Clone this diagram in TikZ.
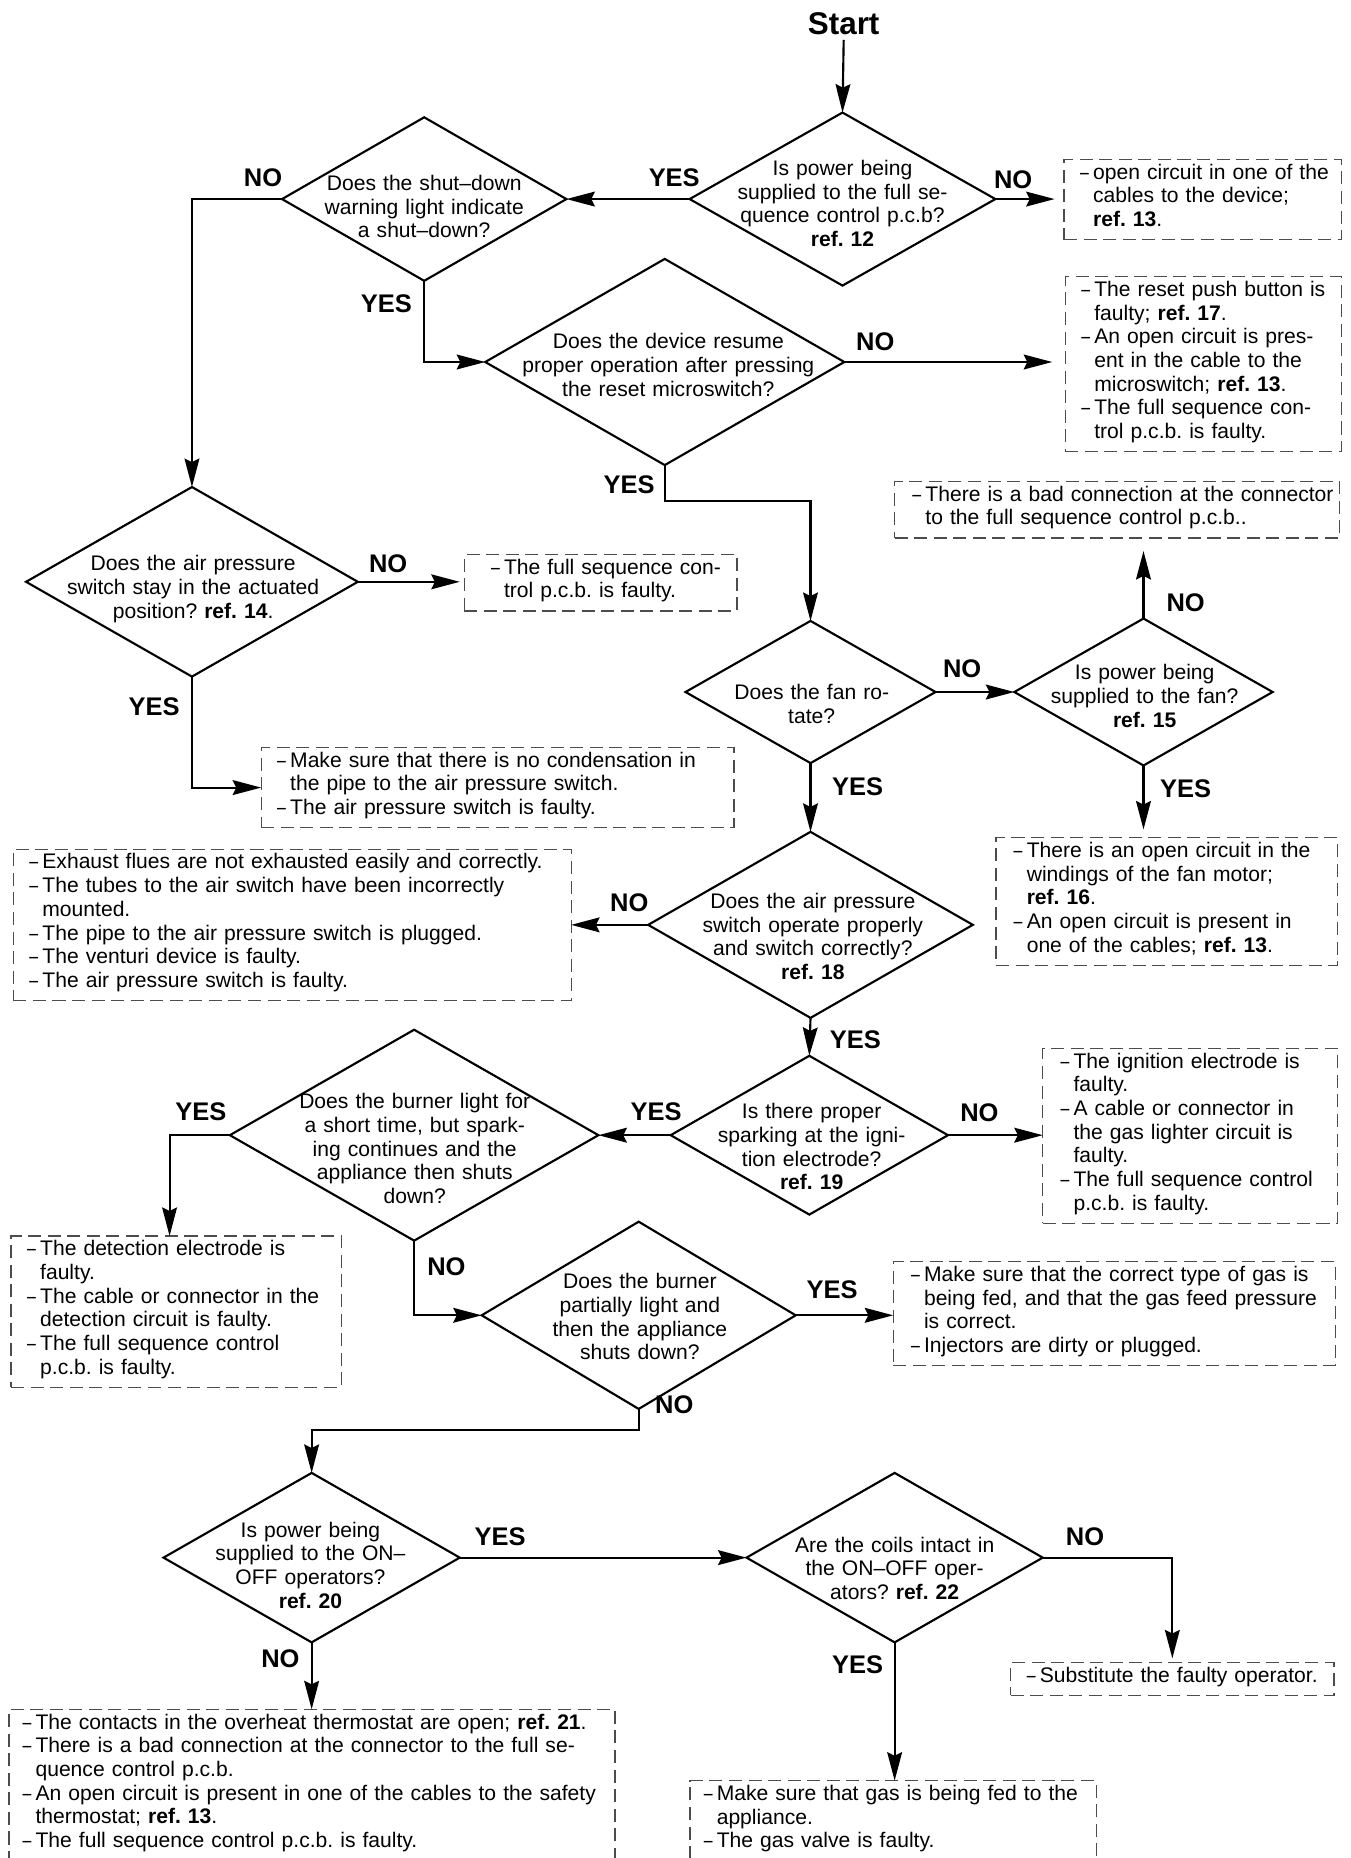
\documentclass[tikz,border=0pt]{standalone}
\usepackage{fontspec}
\usepackage{graphicx}
\setmainfont{Liberation Sans}
\usetikzlibrary{shapes.geometric,arrows.meta,calc}
\newcommand\itm[1]{\mbox{\makebox[11pt][l]{\scalebox{0.75}[1]{–}}#1}}
\newcommand\cnt[1]{\mbox{\hspace*{11pt}#1}}
\frenchspacing
\begin{document}
\begin{tikzpicture}[x=1pt,y=1pt,
  dia/.style={draw, shape=diamond, inner sep=0pt, outer sep=0pt, line width=1.8pt},
  dtext/.style={text width=300pt, align=center, inner sep=0pt, anchor=base, font=\fontsize{17.8}{20}\selectfont\frenchspacing},
  lbl/.style={inner sep=0pt, font=\bfseries\fontsize{21.5}{24}\selectfont},
  box/.style={draw=black!70, line width=1.1pt, dash pattern=on 11pt off 5.5pt, anchor=north west,
    inner xsep=13.5pt, inner ysep=3.75pt, outer sep=0pt, align=left,
    font=\fontsize{17.8}{20}\selectfont\frenchspacing,
    execute at begin node={\rule{0pt}{12.7pt}}, execute at end node={\rule[-7.3pt]{0pt}{7.3pt}}},
  conn/.style={line width=1.8pt, -{Stealth[length=24pt,width=12.5pt,inset=3pt]}},
  plain/.style={line width=1.8pt}
]
\path[use as bounding box, fill=white] (0,0) rectangle (1140,-1568);

% start
\node[inner sep=4pt, font=\bfseries\fontsize{26.5}{30}\selectfont] (start) at (712,-20) {Start};

% diamonds
\node[dia, minimum width=258pt, minimum height=146pt] (d1) at (711,-168) {};
\node[dia, minimum width=240pt, minimum height=138pt] (d2) at (358,-168) {};
\node[dia, minimum width=280pt, minimum height=160pt] (d3) at (162,-491) {};
\node[dia, minimum width=303pt, minimum height=174pt] (d4) at (561,-305.5) {};
\node[dia, minimum width=211pt, minimum height=120pt] (d5) at (684,-584) {};
\node[dia, minimum width=218pt, minimum height=124pt] (d6) at (965,-584) {};
\node[dia, minimum width=274pt, minimum height=157pt] (d7) at (684,-780.5) {};
\node[dia, minimum width=311pt, minimum height=178pt] (d8) at (349.5,-958) {};
\node[dia, minimum width=234pt, minimum height=134pt] (d9) at (683,-958) {};
\node[dia, minimum width=265pt, minimum height=158pt] (d10) at (539,-1110) {};
\node[dia, minimum width=250pt, minimum height=143pt] (d11) at (263,-1314.5) {};
\node[dia, minimum width=250pt, minimum height=143pt] (d12) at (755,-1314.5) {};

% diamond texts
\node[dtext] (t1) at (711,-148) {Is power being\\supplied to the full se-\\quence control p.c.b?\\\textbf{ref. 12}};
\node[dtext] (t2) at (358,-160.6) {Does the shut–down\\warning light indicate\\a shut–down?};
\node[dtext] (t3) at (163,-481.6) {Does the air pressure\\switch stay in the actuated\\position? \textbf{ref. 14}.};
\node[dtext] (t4) at (564,-294.3) {Does the device resume\\proper operation after pressing\\the reset microswitch?};
\node[dtext] (t5) at (685,-590.2) {Does the fan ro-\\tate?};
\node[dtext] (t6) at (966,-573.6) {Is power being\\supplied to the fan?\\\textbf{ref. 15}};
\node[dtext] (t7) at (686,-766.6) {Does the air pressure\\switch operate properly\\and switch correctly?\\\textbf{ref. 18}};
\node[dtext] (t8) at (350,-935.6) {Does the burner light for\\a short time, but spark-\\ing continues and the\\appliance then shuts\\down?};
\node[dtext] (t9) at (685,-944.1) {Is there proper\\sparking at the igni-\\tion electrode?\\\textbf{ref. 19}};
\node[dtext] (t10) at (540,-1087.6) {Does the burner\\partially light and\\then the appliance\\shuts down?};
\node[dtext] (t11) at (262,-1297.1) {Is power being\\supplied to the ON–\\OFF operators?\\\textbf{ref. 20}};
\node[dtext] (t12) at (755,-1309.8) {Are the coils intact in\\the ON–OFF oper-\\ators? \textbf{ref. 22}};

% boxes
\node[box, text width=207pt] (b1) at (898,-134.5) {\itm{open circuit in one of the}\\\cnt{cables to the device;}\\\cnt{\textbf{ref. 13}.}};
\node[box, text width=206pt] (b2) at (899,-233.5) {\itm{The reset push button is}\\\cnt{faulty; \textbf{ref. 17}.}\\\itm{An open circuit is pres-}\\\cnt{ent in the cable to the}\\\cnt{microswitch; \textbf{ref. 13}.}\\\itm{The full sequence con-}\\\cnt{trol p.c.b. is faulty.}};
\node[box, inner xsep=22.6pt, text width=185pt] (b3) at (391.8,-468) {\itm{The full sequence con-}\\\cnt{trol p.c.b. is faulty.}};
\node[box, text width=372pt] (b4) at (220.4,-630.8) {\itm{Make sure that there is no condensation in}\\\cnt{the pipe to the air pressure switch.}\\\itm{The air pressure switch is faulty.}};
\node[box, text width=443.7pt] (b5) at (11.3,-716.7) {\itm{Exhaust flues are not exhausted easily and correctly.}\\\itm{The tubes to the air switch have been incorrectly}\\\cnt{mounted.}\\\itm{The pipe to the air pressure switch is plugged.}\\\itm{The venturi device is faulty.}\\\itm{The air pressure switch is faulty.}};
\node[box, inner xsep=15pt, text width=345.6pt] (b6) at (755,-406.3) {\itm{There is a bad connection at the connector}\\\cnt{to the full sequence control p.c.b..}};
\node[box, inner xsep=15pt, text width=258.2pt] (b7) at (840.5,-707) {\itm{There is an open circuit in the}\\\cnt{windings of the fan motor;}\\\cnt{\textbf{ref. 16}.}\\\itm{An open circuit is present in}\\\cnt{one of the cables; \textbf{ref. 13}.}};
\node[box, text width=251.8pt] (b8) at (9.4,-1043) {\itm{The detection electrode is}\\\cnt{faulty.}\\\itm{The cable or connector in the}\\\cnt{detection circuit is faulty.}\\\itm{The full sequence control}\\\cnt{p.c.b. is faulty.}};
\node[box, inner xsep=15pt, text width=218.7pt] (b9) at (880,-884.7) {\itm{The ignition electrode is}\\\cnt{faulty.}\\\itm{A cable or connector in}\\\cnt{the gas lighter circuit is}\\\cnt{faulty.}\\\itm{The full sequence control}\\\cnt{p.c.b. is faulty.}};
\node[box, inner xsep=15pt, text width=343pt] (b10) at (753.8,-1064.7) {\itm{Make sure that the correct type of gas is}\\\cnt{being fed, and that the gas feed pressure}\\\cnt{is correct.}\\\itm{Injectors are dirty or plugged.}};
\node[box, inner xsep=11.5pt, text width=488.6pt] (b11) at (7.5,-1442.5) {\itm{The contacts in the overheat thermostat are open; \textbf{ref. 21}.}\\\itm{There is a bad connection at the connector to the full se-}\\\cnt{quence control p.c.b.}\\\itm{An open circuit is present in one of the cables to the safety}\\\cnt{thermostat; \textbf{ref. 13}.}\\\itm{The full sequence control p.c.b. is faulty.}};
\node[box, text width=245.7pt] (b12) at (853,-1403.1) {\itm{Substitute the faulty operator.}};
\node[box, inner xsep=11.5pt, text width=319.8pt] (b13) at (582.4,-1502.7) {\itm{Make sure that gas is being fed to the}\\\cnt{appliance.}\\\itm{The gas valve is faulty.}};

% labels
\node[lbl] (l1) at (569,-150) {YES};
\node[lbl] (l2) at (855,-152) {NO};
\node[lbl] (l3) at (222,-150) {NO};
\node[lbl] (l4) at (326,-256) {YES};
\node[lbl] (l5) at (738.6,-288) {NO};
\node[lbl] (l6) at (531,-409.3) {YES};
\node[lbl] (l7) at (327.6,-475.6) {NO};
\node[lbl] (l8) at (130,-596) {YES};
\node[lbl] (l9) at (812,-564.6) {NO};
\node[lbl] (l10) at (1000.6,-508.8) {NO};
\node[lbl] (l11) at (723.7,-664) {YES};
\node[lbl] (l12) at (1000.6,-665.5) {YES};
\node[lbl] (l13) at (531,-761.9) {NO};
\node[lbl] (l14) at (721.8,-877.6) {YES};
\node[lbl] (l15) at (169.5,-938) {YES};
\node[lbl] (l16) at (553.7,-938) {YES};
\node[lbl] (l17) at (826.5,-939) {NO};
\node[lbl] (l18) at (376.7,-1069) {NO};
\node[lbl] (l19) at (702.3,-1088.6) {YES};
\node[lbl] (l20) at (569,-1185.7) {NO};
\node[lbl] (l21) at (422,-1296.8) {YES};
\node[lbl] (l22) at (236.6,-1399.4) {NO};
\node[lbl] (l23) at (915.7,-1296.8) {NO};
\node[lbl] (l24) at (723.7,-1405) {YES};

% bend points
\coordinate (k1) at (684,-423);
\coordinate (k3) at (263,-1207);

% connectors
\draw[conn] (start.south) -- (d1.north);
\draw[conn, shorten >=8pt] (d1.east) -- (d1.east -| b1.west);
\draw[conn] (d1.west) -- (d2.east);
\draw[conn] (d2.west) -| (d3.north);
\draw[conn] (d2.south) |- (d4.west);
\draw[conn, shorten >=11pt] (d4.east) -- (d4.east -| b2.west);
\draw[conn] (d4.south) |- (k1) -- (d5.north);
\draw[conn, shorten >=3.8pt] (d3.east) -- (d3.east -| b3.west);
\draw[conn] (d3.south) |- (b4.west);
\draw[conn] (d5.east) -- (d6.west);
\draw[conn, shorten >=11pt] (d6.north) -- (d6.north |- b6.south);
\draw[conn, shorten >=7pt] (d6.south) -- (d6.south |- b7.north);
\draw[conn] (d5.south) -- (d7.north);
\draw[conn] (d7.west) -- (d7.west -| b5.east);
\draw[conn] (d7.south) -- (d9.north);
\draw[conn] (d9.east) -- (d9.east -| b9.west);
\draw[conn] (d9.west) -- (d8.east);
\draw[conn] (d8.west) -| ([xshift=-5.7pt]b8.north);
\draw[conn] (d8.south) |- (d10.west);
\draw[conn] (d10.east) -- (d10.east -| b10.west);
\draw[conn] (d10.south) |- (k3) -- (d11.north);
\draw[conn] (d11.east) -- (d12.west);
\draw[conn] (d11.south) -- (d11.south |- b11.north);
\draw[conn, shorten >=3.6pt] (d12.east) -| (b12.north);
\draw[conn] (d12.south) -- (d12.south |- b13.north);
\end{tikzpicture}
\end{document}
